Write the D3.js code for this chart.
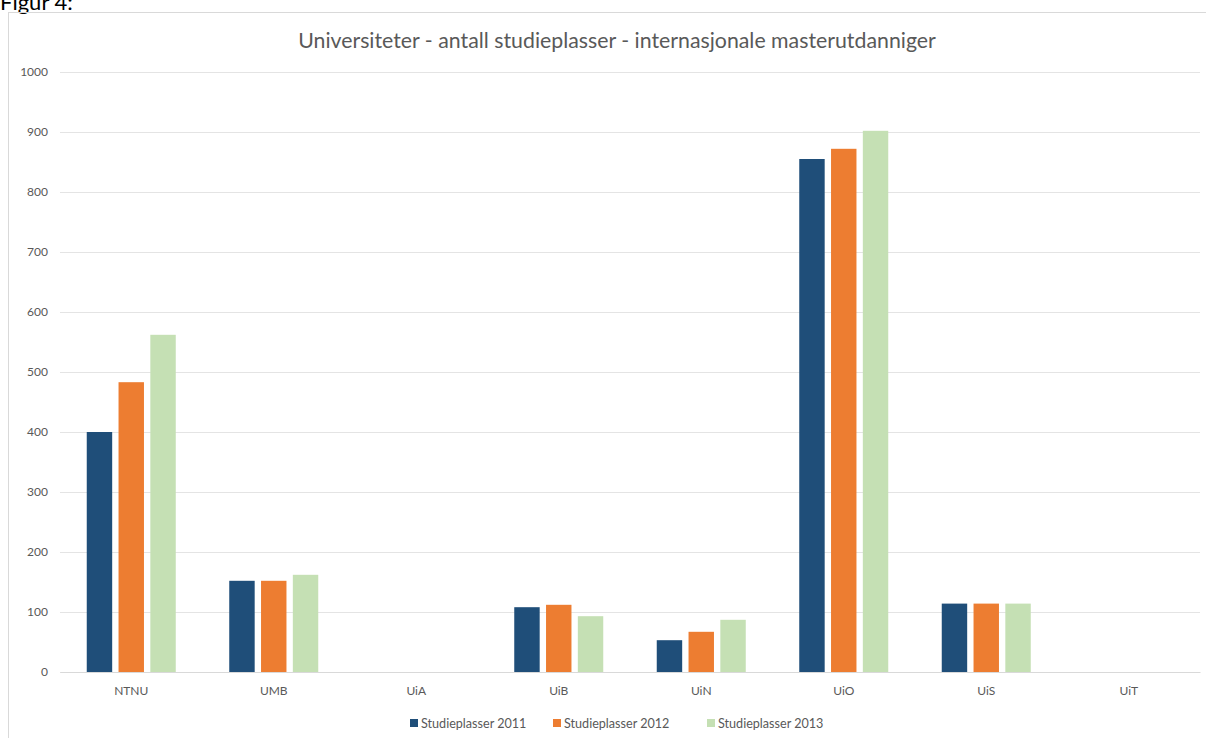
<!DOCTYPE html>
<html lang="no">
<head>
<meta charset="utf-8">
<title>Universiteter - antall studieplasser</title>
<script src="https://d3js.org/d3.v7.min.js"></script>
<style>
  body { margin: 0; background: #fff; }
  text { font-family: Lato, "Open Sans", sans-serif; }
</style>
</head>
<body>
<script>
// data
var universities = ["NTNU", "UMB", "UiA", "UiB", "UiN", "UiO", "UiS", "UiT"];
var seriesNames = ["Studieplasser 2011", "Studieplasser 2012", "Studieplasser 2013"];
var plasser2011 = [400, 152, 0, 108, 53, 855, 114, 0];
var plasser2012 = [483, 152, 0, 112, 67, 872, 114, 0];
var plasser2013 = [562, 162, 0, 93, 87, 902, 114, 0];
var yTicks = [0, 100, 200, 300, 400, 500, 600, 700, 800, 900, 1000];
var colors = ["#1f4e79", "#ed7d31", "#c5e0b4"];

var W = 1206, H = 738;
var svg = d3.select("body").append("svg").attr("width", W).attr("height", H);

// the caption that sits half out of the page at the top
svg.append("text").attr("x", 0).attr("y", 10)
  .attr("font-size", 22).attr("fill", "#000").text("Figur 4:");

// chart frame
svg.append("rect").attr("x", 8.5).attr("y", 12.5)
  .attr("width", W).attr("height", H)
  .attr("fill", "none").attr("stroke", "#d9d9d9");

var x0 = 60, x1 = 1200;
var x = d3.scaleBand().domain(universities).range([x0, x1]);
var y = d3.scaleLinear().domain([0, 1000]).range([672, 72]);
var xs = d3.scaleBand().domain(seriesNames).range([0, 89]).paddingInner(0.2);
var groupOff = (x.bandwidth() - 89) / 2;

// grid
svg.append("g").selectAll("line").data(yTicks).enter().append("line")
  .attr("x1", x0).attr("x2", x1)
  .attr("y1", function(d) { return y(d) + 0.5; })
  .attr("y2", function(d) { return y(d) + 0.5; })
  .attr("stroke", "#e4e4e4").attr("stroke-width", 1);

// y labels
var yAxis = svg.append("g").attr("transform", "translate(48,0)")
  .call(d3.axisLeft(y).tickValues(yTicks).tickFormat(d3.format("d")).tickSize(0).tickPadding(0));
yAxis.select(".domain").remove();
yAxis.selectAll("text").attr("fill", "#595959").attr("font-size", 12)
  .style("font-family", "Lato, sans-serif");

// x labels
var xAxis = svg.append("g").attr("transform", "translate(0,672)")
  .call(d3.axisBottom(x).tickSize(0).tickPadding(14));
xAxis.select(".domain").attr("stroke", "#d9d9d9");
xAxis.selectAll("text").attr("fill", "#595959").attr("font-size", 12)
  .style("font-family", "Lato, sans-serif");

var series = [plasser2011, plasser2012, plasser2013];
var rows = universities.map(function(u, i) {
  return seriesNames.map(function(s, j) { return { uni: u, key: s, j: j, v: series[j][i] }; });
});

svg.append("g").selectAll("g").data(rows).enter().append("g")
  .attr("transform", function(d) { return "translate(" + (x(d[0].uni) + groupOff) + ",0)"; })
  .selectAll("rect").data(function(d) { return d.filter(function(e) { return e.v > 0; }); })
  .enter().append("rect")
  .attr("x", function(d) { return xs(d.key); })
  .attr("width", xs.bandwidth())
  .attr("y", function(d) { return y(d.v); })
  .attr("height", function(d) { return y(0) - y(d.v); })
  .attr("fill", function(d) { return colors[d.j]; });

// title
svg.append("text").attr("x", 617).attr("y", 48).attr("text-anchor", "middle")
  .attr("font-size", 21.3).attr("fill", "#595959")
  .text("Universiteter - antall studieplasser - internasjonale masterutdanniger");

// legend
var legendX = [410, 553, 707];
var lg = svg.append("g").selectAll("g").data(seriesNames).enter().append("g")
  .attr("transform", function(d, i) { return "translate(" + legendX[i] + ",728)"; });
lg.append("rect").attr("x", 0).attr("y", -9).attr("width", 8).attr("height", 8)
  .attr("fill", function(d, i) { return colors[i]; });
lg.append("text").attr("x", 11).attr("y", 0).attr("font-size", 12.6).attr("fill", "#595959")
  .text(function(d) { return d; });
</script>
</body>
</html>
